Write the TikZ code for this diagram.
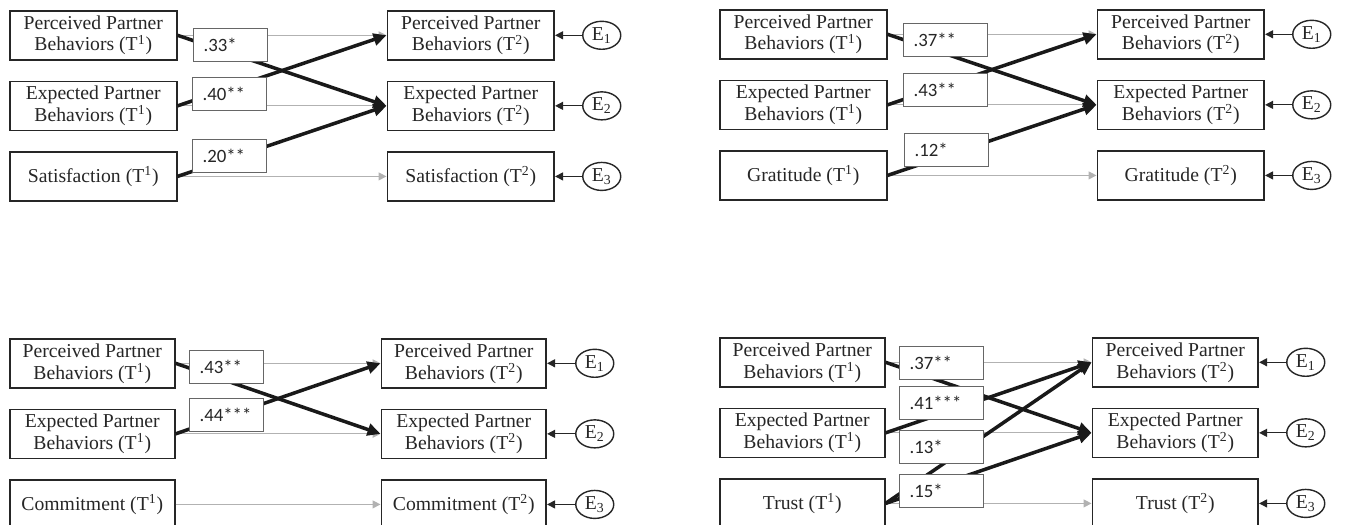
\documentclass[tikz,border=0pt]{standalone}
\usepackage{fontspec}
\setmainfont{Liberation Serif}
\newfontfamily\coeffont{Carlito}
\usetikzlibrary{positioning, arrows.meta, shapes.geometric}

\begin{document}
\begin{tikzpicture}[
   x=0.02cm, y=-0.02cm,
   var/.style={draw=black!85, line width=0.9pt, align=center, inner sep=0pt,
         minimum height=0.98cm, minimum width=3.34cm, text=black!85,
         font=\fontsize{11.2}{12.5}\selectfont},
   err/.style={draw=black!85, ellipse, line width=0.8pt, inner sep=0pt,
         minimum width=0.76cm, minimum height=0.56cm, text=black!85,
         font=\fontsize{11.2}{12.5}\selectfont},
   coef/.style={draw=black!60, fill=white, line width=0.6pt, anchor=north west,
         inner xsep=0.2cm, inner ysep=0pt, minimum height=0.66cm,
         text width=1.08cm, align=left, text=black!85,
         font=\coeffont\fontsize{10.7}{12}\selectfont},
   coefwide/.style={coef, text width=1.28cm},
   effect/.style={-{Triangle[length=2.6mm, width=2.4mm]}, line width=2pt, black!90},
   stab/.style={-{Triangle[length=1.6mm, width=1.6mm]}, line width=0.6pt, black!30},
   resid/.style={-{Triangle[length=1.6mm, width=1.6mm]}, line width=0.7pt, black!85},
   node distance=0.4cm and 4.18cm,
  ]
  \useasboundingbox (0,0) rectangle (1345,524);
  \clip (0,0) rectangle (1345,524);

  % satisfaction model (top left)
  \node[var, anchor=north west] (ppbA1) at (9,10) {Perceived Partner\\Behaviors (T\textsuperscript{1})};
  \node[var, below=of ppbA1] (epbA1) {Expected Partner\\Behaviors (T\textsuperscript{1})};
  \node[var, below=of epbA1] (satA1) {Satisfaction (T\textsuperscript{1})};
  \node[var, right=of ppbA1] (ppbA2) {Perceived Partner\\Behaviors (T\textsuperscript{2})};
  \node[var, right=of epbA1] (epbA2) {Expected Partner\\Behaviors (T\textsuperscript{2})};
  \node[var, right=of satA1] (satA2) {Satisfaction (T\textsuperscript{2})};
  \node[err, right=0.54cm of ppbA2] (eA1) {E\textsubscript{1}};
  \node[err, right=0.54cm of epbA2] (eA2) {E\textsubscript{2}};
  \node[err, right=0.54cm of satA2] (eA3) {E\textsubscript{3}};

  \draw[stab] (ppbA1) -- (ppbA2);
  \draw[stab] (epbA1) -- (epbA2);
  \draw[stab] (satA1) -- (satA2);
  \draw[effect] (ppbA1.east) -- (epbA2.west);
  \draw[effect] (epbA1.east) -- (ppbA2.west);
  \draw[effect] (satA1.east) -- (epbA2.west);
  \draw[resid] (eA1) -- (ppbA2);
  \draw[resid] (eA2) -- (epbA2);
  \draw[resid] (eA3) -- (satA2);

  \node[coef] (cA33) at (193,28) {.33*};
  \node[coef] (cA40) at (192,77) {.40**};
  \node[coef] (cA20) at (192,139) {.20**};

  % gratitude model (top right)
  \node[var, anchor=north west] (ppbB1) at (719,9) {Perceived Partner\\Behaviors (T\textsuperscript{1})};
  \node[var, below=of ppbB1] (epbB1) {Expected Partner\\Behaviors (T\textsuperscript{1})};
  \node[var, below=of epbB1] (graB1) {Gratitude (T\textsuperscript{1})};
  \node[var, right=of ppbB1] (ppbB2) {Perceived Partner\\Behaviors (T\textsuperscript{2})};
  \node[var, right=of epbB1] (epbB2) {Expected Partner\\Behaviors (T\textsuperscript{2})};
  \node[var, right=of graB1] (graB2) {Gratitude (T\textsuperscript{2})};
  \node[err, right=0.54cm of ppbB2] (eB1) {E\textsubscript{1}};
  \node[err, right=0.54cm of epbB2] (eB2) {E\textsubscript{2}};
  \node[err, right=0.54cm of graB2] (eB3) {E\textsubscript{3}};

  \draw[stab] (ppbB1) -- (ppbB2);
  \draw[stab] (epbB1) -- (epbB2);
  \draw[stab] (graB1) -- (graB2);
  \draw[effect] (ppbB1.east) -- (epbB2.west);
  \draw[effect] (epbB1.east) -- (ppbB2.west);
  \draw[effect] (graB1.east) -- (epbB2.west);
  \draw[resid] (eB1) -- (ppbB2);
  \draw[resid] (eB2) -- (epbB2);
  \draw[resid] (eB3) -- (graB2);

  \node[coefwide] (cB37) at (903,23) {.37**};
  \node[coefwide] (cB43) at (903,73) {.43**};
  \node[coefwide] (cB12) at (904,133) {.12*};

  % commitment model (bottom left)
  \node[var, anchor=north west, minimum width=3.3cm] (ppbC1) at (9,338) {Perceived Partner\\Behaviors (T\textsuperscript{1})};
  \node[var, below=of ppbC1, minimum width=3.3cm] (epbC1) {Expected Partner\\Behaviors (T\textsuperscript{1})};
  \node[var, below=of epbC1, minimum width=3.3cm] (comC1) {Commitment (T\textsuperscript{1})};
  \node[var, right=4.1cm of ppbC1, minimum width=3.3cm] (ppbC2) {Perceived Partner\\Behaviors (T\textsuperscript{2})};
  \node[var, right=4.1cm of epbC1, minimum width=3.3cm] (epbC2) {Expected Partner\\Behaviors (T\textsuperscript{2})};
  \node[var, right=4.1cm of comC1, minimum width=3.3cm] (comC2) {Commitment (T\textsuperscript{2})};
  \node[err, right=0.56cm of ppbC2] (eC1) {E\textsubscript{1}};
  \node[err, right=0.56cm of epbC2] (eC2) {E\textsubscript{2}};
  \node[err, right=0.56cm of comC2] (eC3) {E\textsubscript{3}};

  \draw[stab] (ppbC1) -- (ppbC2);
  \draw[stab] (epbC1) -- (epbC2);
  \draw[stab] (comC1) -- (comC2);
  \draw[effect] (ppbC1.east) -- (epbC2.west);
  \draw[effect] (epbC1.east) -- (ppbC2.west);
  \draw[resid] (eC1) -- (ppbC2);
  \draw[resid] (eC2) -- (epbC2);
  \draw[resid] (eC3) -- (comC2);

  \node[coef] (cC43) at (189,350) {.43**};
  \node[coef] (cC44) at (189,398) {.44***};

  % trust model (bottom right)
  \node[var, anchor=north west, minimum width=3.3cm] (ppbD1) at (719,337) {Perceived Partner\\Behaviors (T\textsuperscript{1})};
  \node[var, below=of ppbD1, minimum width=3.3cm] (epbD1) {Expected Partner\\Behaviors (T\textsuperscript{1})};
  \node[var, below=of epbD1, minimum width=3.3cm] (truD1) {Trust (T\textsuperscript{1})};
  \node[var, right=4.12cm of ppbD1, minimum width=3.32cm] (ppbD2) {Perceived Partner\\Behaviors (T\textsuperscript{2})};
  \node[var, right=4.12cm of epbD1, minimum width=3.32cm] (epbD2) {Expected Partner\\Behaviors (T\textsuperscript{2})};
  \node[var, right=4.12cm of truD1, minimum width=3.32cm] (truD2) {Trust (T\textsuperscript{2})};
  \node[err, right=0.54cm of ppbD2] (eD1) {E\textsubscript{1}};
  \node[err, right=0.54cm of epbD2] (eD2) {E\textsubscript{2}};
  \node[err, right=0.54cm of truD2] (eD3) {E\textsubscript{3}};

  \draw[stab] (ppbD1) -- (ppbD2);
  \draw[stab] (epbD1) -- (epbD2);
  \draw[stab] (truD1) -- (truD2);
  \draw[effect] (ppbD1.east) -- (epbD2.west);
  \draw[effect] (epbD1.east) -- (ppbD2.west);
  \draw[effect] (truD1.east) -- (ppbD2.west);
  \draw[effect] (truD1.east) -- (epbD2.west);
  \draw[resid] (eD1) -- (ppbD2);
  \draw[resid] (eD2) -- (epbD2);
  \draw[resid] (eD3) -- (truD2);

  \node[coefwide] (cD37) at (899,346) {.37**};
  \node[coefwide] (cD41) at (899,386) {.41***};
  \node[coefwide] (cD13) at (899,430) {.13*};
  \node[coefwide] (cD15) at (899,474) {.15*};
 \end{tikzpicture}
\end{document}
